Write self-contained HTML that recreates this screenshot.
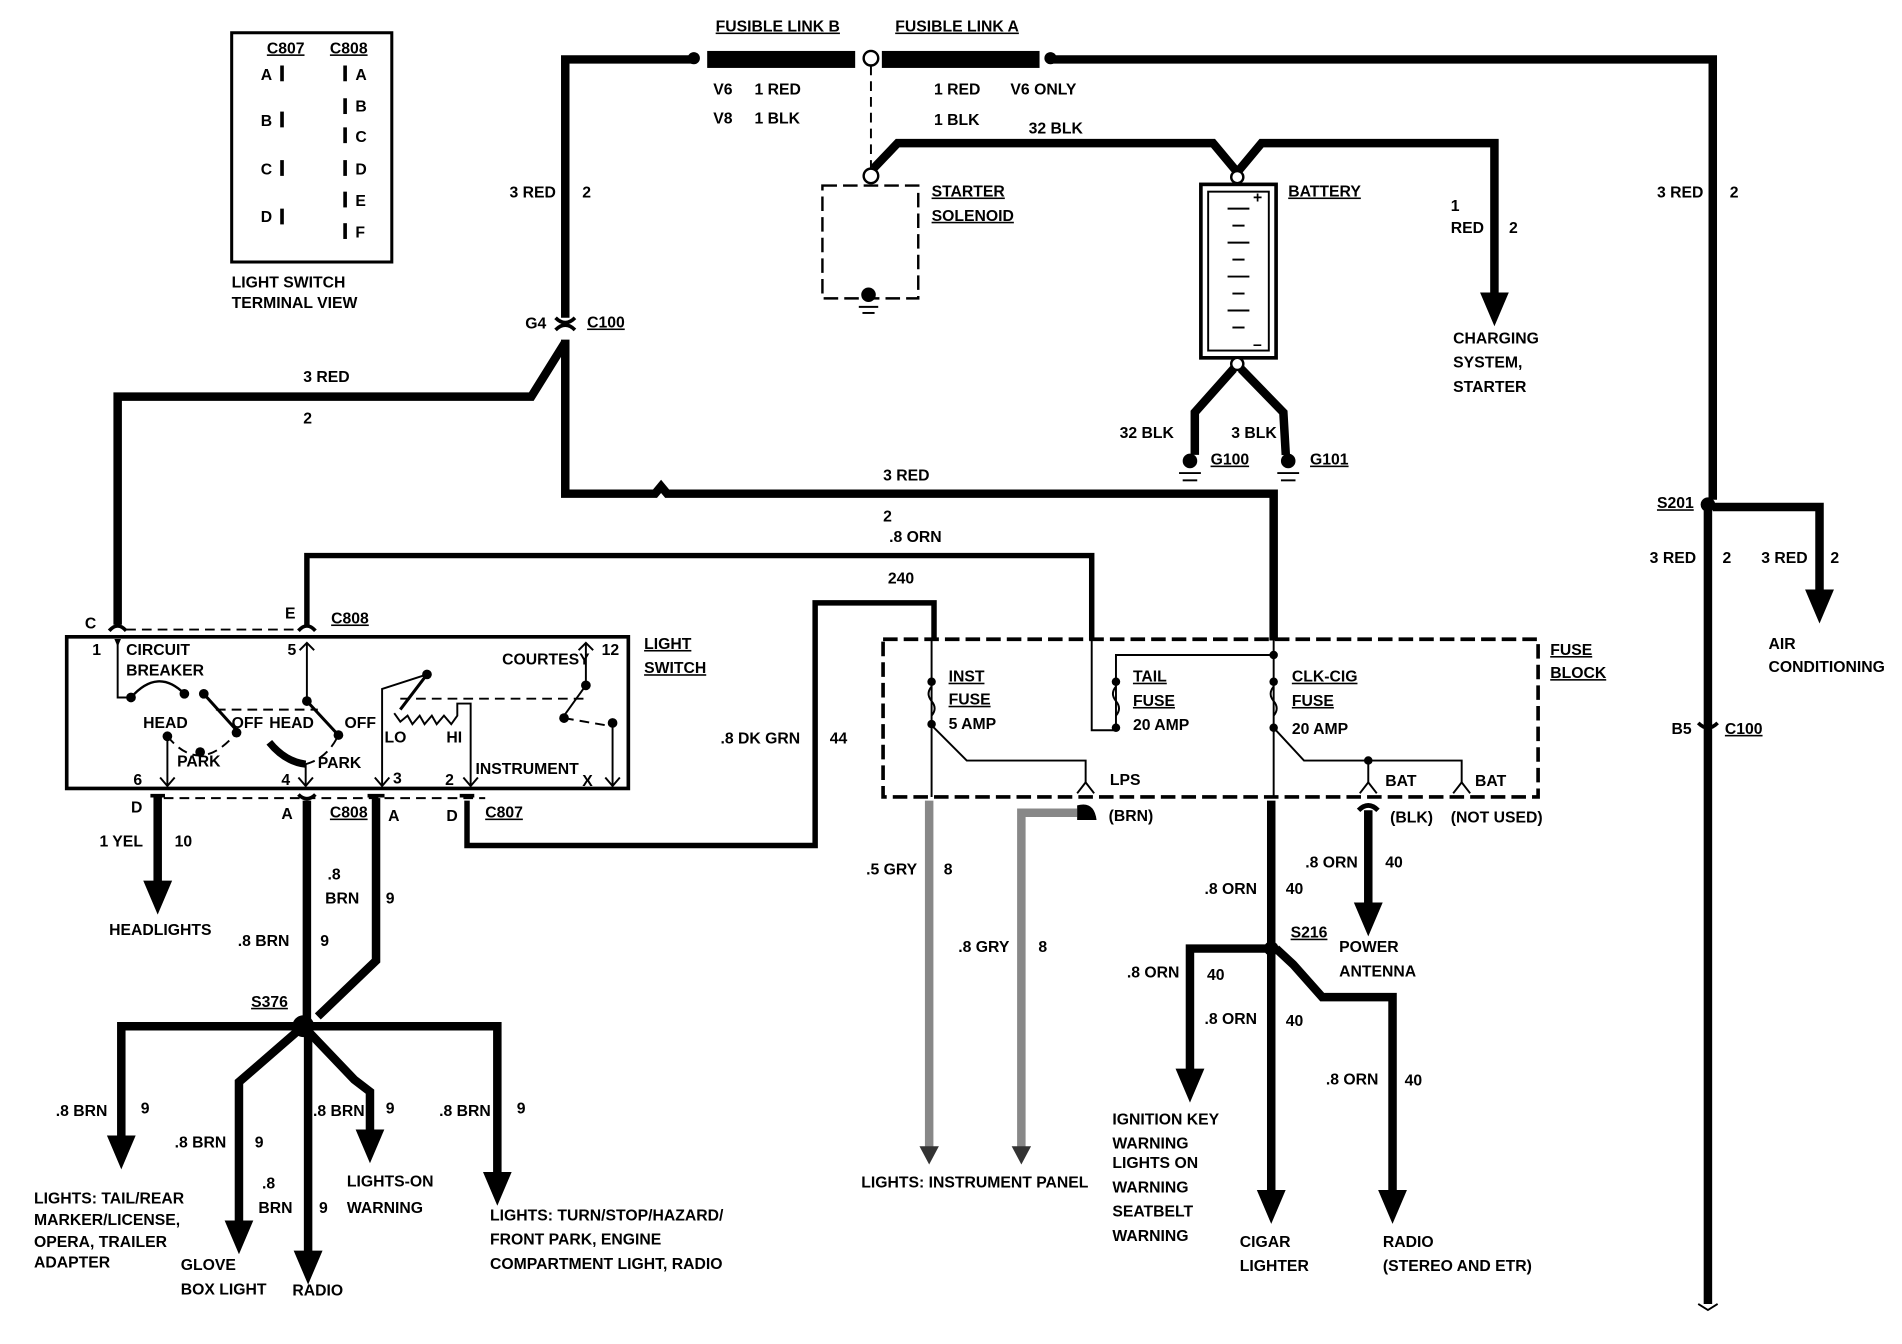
<!DOCTYPE html>
<html><head><meta charset="utf-8"><style>
html,body{margin:0;padding:0;background:#fff;}
svg{display:block;}
text{font-family:"Liberation Sans",sans-serif;font-weight:bold;font-size:13px;fill:#000;}
.t{stroke:#000;stroke-width:7;fill:none;}
.m{stroke:#000;stroke-width:4.5;fill:none;}
.n{stroke:#000;stroke-width:1.6;fill:none;}
.d{stroke:#000;stroke-width:1.6;fill:none;stroke-dasharray:8 5;}
.bd{stroke:#000;stroke-width:3;fill:none;stroke-dasharray:12 5;}
.g{stroke:#888;stroke-width:7;fill:none;}
</style></head><body>
<svg width="1902" height="1344" viewBox="0 0 1568 1108" preserveAspectRatio="none" xmlns="http://www.w3.org/2000/svg">
<defs>
<marker id="ar" markerWidth="4" markerHeight="4" refX="2" refY="2" orient="auto" markerUnits="strokeWidth"><path d="M0,0.3 L4,2 L0,3.7 Z" fill="#000"/></marker>
</defs>
<!-- terminal view -->
<rect x="191" y="27" width="132" height="189" class="n" style="stroke-width:2.5"/>
<text x="220" y="44" font-size="10" text-decoration="underline">C807</text>
<text x="272" y="44" font-size="10" text-decoration="underline">C808</text>
<g font-size="10">
<text x="215" y="66">A</text><rect x="231" y="54" width="3" height="13"/>
<text x="215" y="104">B</text><rect x="231" y="92" width="3" height="13"/>
<text x="215" y="144">C</text><rect x="231" y="132" width="3" height="13"/>
<text x="215" y="183">D</text><rect x="231" y="172" width="3" height="13"/>
<rect x="283" y="54" width="3" height="13"/><text x="293" y="66">A</text>
<rect x="283" y="81" width="3" height="13"/><text x="293" y="92">B</text>
<rect x="283" y="105" width="3" height="13"/><text x="293" y="117">C</text>
<rect x="283" y="132" width="3" height="13"/><text x="293" y="144">D</text>
<rect x="283" y="158" width="3" height="13"/><text x="293" y="170">E</text>
<rect x="283" y="184" width="3" height="13"/><text x="293" y="196">F</text>
</g>
<text x="191" y="237" font-size="11">LIGHT SWITCH</text>
<text x="191" y="254" font-size="11">TERMINAL VIEW</text>
<!-- top wires -->
<polyline class="t" points="466,262 466,49 572,49"/>
<circle cx="572" cy="48" r="5"/>
<rect x="583" y="42" width="122" height="14"/>
<circle cx="718" cy="48" r="6" fill="#fff" stroke="#000" stroke-width="2"/>
<rect x="727" y="42" width="130" height="14"/>
<circle cx="866" cy="48" r="5"/>
<polyline class="t" points="866,49 1412,49 1412,412"/>
<text x="590" y="26" text-decoration="underline">FUSIBLE LINK B</text>
<text x="738" y="26" text-decoration="underline">FUSIBLE LINK A</text>
<text x="588" y="78">V6</text><text x="622" y="78">1 RED</text>
<text x="588" y="102">V8</text><text x="622" y="102">1 BLK</text>
<text x="770" y="78">1 RED</text><text x="833" y="78">V6 ONLY</text>
<text x="770" y="103">1 BLK</text><text x="848" y="110">32 BLK</text>
<line class="d" x1="718" y1="54" x2="718" y2="140"/>
<circle cx="718" cy="145" r="6" fill="#fff" stroke="#000" stroke-width="2"/>
<polyline class="t" points="720,139 740,118 1000,118 1020,142 1040,118 1232,118 1232,255" marker-end="url(#ar)"/>
<rect x="678" y="153" width="79" height="93" class="bd" style="stroke-width:2"/>
<circle cx="716" cy="243" r="6"/>
<line class="n" x1="708" y1="253" x2="724" y2="253"/><line class="n" x1="711" y1="258" x2="721" y2="258"/>
<text x="768" y="162" text-decoration="underline">STARTER</text>
<text x="768" y="182" text-decoration="underline">SOLENOID</text>
<!-- battery -->
<rect x="990" y="152" width="62" height="143" class="n" style="stroke-width:3"/>
<rect x="996" y="158" width="50" height="131" class="n"/>
<g class="n"><line x1="1012" y1="172" x2="1030" y2="172"/><line x1="1016" y1="186" x2="1026" y2="186"/><line x1="1012" y1="200" x2="1030" y2="200"/><line x1="1016" y1="214" x2="1026" y2="214"/><line x1="1012" y1="228" x2="1030" y2="228"/><line x1="1016" y1="242" x2="1026" y2="242"/><line x1="1012" y1="256" x2="1030" y2="256"/><line x1="1016" y1="270" x2="1026" y2="270"/></g>
<text x="1033" y="167">+</text><text x="1033" y="288">–</text>
<circle cx="1020" cy="146" r="5" fill="#fff" stroke="#000" stroke-width="2"/>
<circle cx="1020" cy="300" r="5" fill="#fff" stroke="#000" stroke-width="2"/>
<text x="1062" y="162" text-decoration="underline">BATTERY</text>
<polyline class="t" points="1017,304 985,340 985,375"/>
<polyline class="t" points="1023,304 1058,340 1060,375"/>
<circle cx="981" cy="380" r="6"/><line class="n" x1="972" y1="390" x2="990" y2="390"/><line class="n" x1="975" y1="396" x2="987" y2="396"/>
<circle cx="1062" cy="380" r="6"/><line class="n" x1="1053" y1="390" x2="1071" y2="390"/><line class="n" x1="1056" y1="396" x2="1068" y2="396"/>
<text x="923" y="361">32 BLK</text><text x="1015" y="361">3 BLK</text>
<text x="998" y="383" text-decoration="underline">G100</text><text x="1080" y="383" text-decoration="underline">G101</text>
<text x="1196" y="174">1</text><text x="1196" y="192">RED</text><text x="1244" y="192">2</text>
<text x="1198" y="283">CHARGING</text><text x="1198" y="303">SYSTEM,</text><text x="1198" y="323">STARTER</text>
<!-- right side -->
<text x="1366" y="163">3 RED</text><text x="1426" y="163">2</text>
<circle cx="1408" cy="416" r="6"/>
<text x="1366" y="419" text-decoration="underline">S201</text>
<polyline class="t" points="1412,418 1500,418 1500,500" marker-end="url(#ar)"/>
<polyline class="t" points="1408,420 1408,1075"/>
<path d="M1400,1075 L1408,1080 L1416,1075" class="n"/>
<text x="1360" y="464">3 RED</text><text x="1420" y="464">2</text>
<text x="1452" y="464">3 RED</text><text x="1509" y="464">2</text>
<text x="1458" y="535">AIR</text><text x="1458" y="554">CONDITIONING</text>
<text x="1378" y="605">B5</text><text x="1422" y="605" text-decoration="underline">C100</text>
<path d="M1400,596 Q1408,604 1416,596" class="n" style="stroke-width:3"/>
<!-- C100 left -->
<text x="420" y="163">3 RED</text><text x="480" y="163">2</text>
<path d="M458,262 Q466,270 474,262 M458,272 Q466,264 474,272" class="n" style="stroke-width:3"/>
<text x="433" y="271">G4</text><text x="484" y="270" text-decoration="underline">C100</text>
<polyline class="t" points="466,282 438,327 97,327 97,515"/>
<polyline class="t" points="466,280 466,407 540,407 545,401 550,407 1050,407 1050,528"/>
<text x="250" y="315">3 RED</text><text x="250" y="349">2</text>
<text x="728" y="396">3 RED</text><text x="728" y="430">2</text>
<polyline class="m" points="253,515 253,458 900,458 900,528"/>
<text x="733" y="447">.8 ORN</text>
<polyline class="m" points="770,528 770,497 672,497 672,697 385,697 385,660"/>
<text x="732" y="481">240</text>
<text x="594" y="613">.8 DK GRN</text><text x="684" y="613">44</text>
<!-- light switch -->
<rect x="55" y="525" width="463" height="125" fill="none" stroke="#000" stroke-width="3"/>
<path d="M90,520 Q97,512 104,520 M246,520 Q253,512 260,520" class="n" style="stroke-width:3"/>
<line class="d" x1="104" y1="519" x2="246" y2="519"/>
<text x="70" y="518">C</text><text x="235" y="510">E</text><text x="273" y="514" text-decoration="underline">C808</text>
<text x="76" y="540" font-size="11">1</text><text x="237" y="540" font-size="11">5</text><text x="496" y="540" font-size="11">12</text>
<text x="104" y="540" font-size="11">CIRCUIT</text><text x="104" y="557" font-size="11">BREAKER</text>
<text x="414" y="548" font-size="11">COURTESY</text>
<text x="531" y="535" text-decoration="underline">LIGHT</text><text x="531" y="555" text-decoration="underline">SWITCH</text>
<polyline class="n" points="97,530 97,575 108,575" marker-start="url(#ar)"/>
<path d="M108,575 Q130,550 152,572" class="n" style="stroke-width:2"/>
<circle cx="108" cy="575" r="4"/><circle cx="152" cy="572" r="4"/><circle cx="168" cy="572" r="4"/>
<line class="n" x1="168" y1="572" x2="195" y2="602" style="stroke-width:2.5"/>
<circle cx="195" cy="604" r="4"/>
<line class="d" x1="178" y1="585" x2="262" y2="585"/>
<text x="118" y="600" font-size="11">HEAD</text><text x="191" y="600" font-size="11">OFF</text>
<path d="M138,607 Q165,640 195,604" class="d"/>
<circle cx="138" cy="607" r="4"/><circle cx="165" cy="620" r="4"/>
<text x="146" y="632" font-size="11">PARK</text>
<line class="n" x1="138" y1="607" x2="138" y2="648"/><path d="M132,641 L138,648 L144,641" class="n"/>
<text x="110" y="647" font-size="11">6</text>
<line class="n" x1="253" y1="530" x2="253" y2="578"/><path d="M247,536 L253,530 L259,536" class="n"/>
<circle cx="253" cy="578" r="4"/>
<line class="n" x1="253" y1="578" x2="278" y2="605" style="stroke-width:2.5"/>
<circle cx="279" cy="606" r="4"/>
<text x="222" y="600" font-size="11">HEAD</text><text x="284" y="600" font-size="11">OFF</text>
<path d="M222,612 Q235,628 252,630" stroke="#000" stroke-width="6" fill="none"/>
<path d="M252,630 Q270,625 279,606" class="d"/>
<line class="n" x1="252" y1="630" x2="252" y2="648"/><path d="M246,641 L252,648 L258,641" class="n"/>
<text x="262" y="633" font-size="11">PARK</text><text x="232" y="647" font-size="11">4</text>
<polyline class="n" points="352,556 315,568 315,648"/><path d="M309,641 L315,648 L321,641" class="n"/>
<circle cx="352" cy="556" r="4"/>
<line class="n" x1="352" y1="556" x2="330" y2="585" style="stroke-width:2.5"/>
<polyline class="n" points="325,588 330,595 336,590 340,597 346,590 350,597 356,590 360,597 366,590 372,597 377,590 377,580 388,580 388,648"/>
<path d="M382,641 L388,648 L394,641" class="n"/>
<text x="317" y="612" font-size="11">LO</text><text x="368" y="612" font-size="11">HI</text>
<text x="324" y="646" font-size="11">3</text><text x="367" y="647" font-size="11">2</text>
<text x="392" y="638" font-size="11">INSTRUMENT</text>
<line class="d" x1="330" y1="576" x2="483" y2="576"/>
<polyline class="n" points="483,530 483,565 465,590"/><path d="M477,536 L483,530 L489,536" class="n"/>
<circle cx="483" cy="565" r="4"/><circle cx="465" cy="592" r="4"/>
<line class="d" x1="465" y1="592" x2="500" y2="598"/>
<circle cx="505" cy="596" r="4"/>
<line class="n" x1="505" y1="596" x2="505" y2="648"/><path d="M499,641 L505,648 L511,641" class="n"/>
<text x="480" y="648" font-size="11">X</text>
<!-- bottom connectors -->
<line class="d" x1="135" y1="658" x2="400" y2="658"/>
<text x="108" y="670">D</text><text x="232" y="675">A</text><text x="272" y="674" text-decoration="underline">C808</text>
<text x="320" y="677">A</text><text x="368" y="677">D</text><text x="400" y="674" text-decoration="underline">C807</text>
<path d="M124,656 L136,656 M246,655 Q253,662 260,655 M303,656 L317,656 M379,656 L391,656" class="n" style="stroke-width:3"/>
<polyline class="t" points="130,656 130,740" marker-end="url(#ar)"/>
<text x="82" y="698">1 YEL</text><text x="144" y="698">10</text>
<text x="90" y="771">HEADLIGHTS</text>
<polyline class="t" points="253,660 253,842"/>
<polyline class="t" points="310,658 310,792 262,838"/>
<text x="270" y="725">.8</text><text x="268" y="745">BRN</text><text x="318" y="745">9</text>
<text x="196" y="780">.8 BRN</text><text x="264" y="780">9</text>
<circle cx="250" cy="846" r="9"/>
<text x="207" y="830" text-decoration="underline">S376</text>
<polyline class="t" points="250,846 100,846 100,950" marker-end="url(#ar)"/>
<polyline class="t" points="250,846 197,892 197,1020" marker-end="url(#ar)"/>
<polyline class="t" points="254,846 254,1045" marker-end="url(#ar)"/>
<polyline class="t" points="250,846 292,890 305,900 305,945" marker-end="url(#ar)"/>
<polyline class="t" points="250,846 410,846 410,980" marker-end="url(#ar)"/>
<text x="46" y="920">.8 BRN</text><text x="116" y="918">9</text>
<text x="144" y="946">.8 BRN</text><text x="210" y="946">9</text>
<text x="258" y="920">.8 BRN</text><text x="318" y="918">9</text>
<text x="362" y="920">.8 BRN</text><text x="426" y="918">9</text>
<text x="216" y="980">.8</text><text x="213" y="1000">BRN</text><text x="263" y="1000">9</text>
<text x="28" y="992">LIGHTS: TAIL/REAR</text><text x="28" y="1010">MARKER/LICENSE,</text><text x="28" y="1028">OPERA, TRAILER</text><text x="28" y="1045">ADAPTER</text>
<text x="149" y="1047">GLOVE</text><text x="149" y="1067">BOX LIGHT</text><text x="241" y="1068">RADIO</text>
<text x="286" y="978">LIGHTS-ON</text><text x="286" y="1000">WARNING</text>
<text x="404" y="1006">LIGHTS: TURN/STOP/HAZARD/</text><text x="404" y="1026">FRONT PARK, ENGINE</text><text x="404" y="1046">COMPARTMENT LIGHT, RADIO</text>
<!-- fuse block -->
<rect x="728" y="527" width="540" height="130" class="bd"/>
<text x="1278" y="540" text-decoration="underline">FUSE</text><text x="1278" y="559" text-decoration="underline">BLOCK</text>
<line class="n" x1="768" y1="528" x2="768" y2="657"/>
<circle cx="768" cy="562" r="3.5"/><circle cx="768" cy="597" r="3.5"/>
<path d="M768,566 q-5,6 0,12 q5,6 0,12" class="n" fill="#fff" stroke-width="2"/>
<polyline class="n" points="768,598 797,627 895,627 895,645"/>
<path d="M888,654 L895,645 L902,654" class="n"/>
<text x="782" y="562" text-decoration="underline">INST</text><text x="782" y="581" text-decoration="underline">FUSE</text><text x="782" y="601" font-size="10">5 AMP</text>
<text x="915" y="647" font-size="10">LPS</text>
<polyline class="n" points="900,528 900,602 920,602"/>
<polyline class="n" points="1050,528 1050,657"/>
<polyline class="n" points="1050,540 920,540 920,602"/>
<circle cx="920" cy="562" r="3.5"/><circle cx="920" cy="600" r="3.5"/>
<path d="M920,566 q-5,6 0,12 q5,6 0,12" class="n" stroke-width="2"/>
<circle cx="1050" cy="540" r="3.5"/><circle cx="1050" cy="562" r="3.5"/><circle cx="1050" cy="600" r="3.5"/>
<path d="M1050,566 q-5,6 0,12 q5,6 0,12" class="n" stroke-width="2"/>
<text x="934" y="562" text-decoration="underline">TAIL</text><text x="934" y="582" text-decoration="underline">FUSE</text><text x="934" y="602" font-size="10">20 AMP</text>
<text x="1065" y="562" text-decoration="underline">CLK-CIG</text><text x="1065" y="582" text-decoration="underline">FUSE</text><text x="1065" y="605" font-size="10">20 AMP</text>
<polyline class="n" points="1050,600 1075,627 1205,627 1205,645"/>
<circle cx="1128" cy="627" r="3.5"/>
<line class="n" x1="1128" y1="627" x2="1128" y2="645"/>
<path d="M1121,654 L1128,645 L1135,654 M1198,654 L1205,645 L1212,654" class="n"/>
<text x="1142" y="648" font-size="11">BAT</text><text x="1216" y="648" font-size="11">BAT</text>
<text x="914" y="677">(BRN)</text><text x="1146" y="678">(BLK)</text><text x="1196" y="678">(NOT USED)</text>
<!-- gray wires -->
<polyline class="g" points="766,660 766,950"/>
<polygon points="758,945 774,945 766,960" fill="#333"/>
<polyline class="g" points="888,670 842,670 842,950"/>
<path d="M888,664 Q902,660 904,676 L888,676 Z" fill="#000"/>
<polygon points="834,945 850,945 842,960" fill="#333"/>
<text x="714" y="721">.5 GRY</text><text x="778" y="721">8</text>
<text x="790" y="785">.8 GRY</text><text x="856" y="785">8</text>
<text x="710" y="979">LIGHTS: INSTRUMENT PANEL</text>
<!-- clk-cig wires -->
<polyline class="t" points="1048,660 1048,782"/>
<circle cx="1048" cy="782" r="6"/>
<text x="1064" y="773" text-decoration="underline">S216</text>
<polyline class="t" points="1048,782 981,782 981,895" marker-end="url(#ar)"/>
<polyline class="t" points="1048,782 1048,995" marker-end="url(#ar)"/>
<polyline class="t" points="1052,782 1066,795 1090,822 1148,822 1148,995" marker-end="url(#ar)"/>
<path d="M1120,668 Q1128,660 1136,668" class="n" style="stroke-width:4"/>
<polyline class="t" points="1128,668 1128,758" marker-end="url(#ar)"/>
<text x="1076" y="715">.8 ORN</text><text x="1142" y="715">40</text>
<text x="993" y="737">.8 ORN</text><text x="1060" y="737">40</text>
<text x="1104" y="785">POWER</text><text x="1104" y="805">ANTENNA</text>
<text x="929" y="806">.8 ORN</text><text x="995" y="808">40</text>
<text x="993" y="844">.8 ORN</text><text x="1060" y="846">40</text>
<text x="1093" y="894">.8 ORN</text><text x="1158" y="895">40</text>
<text x="917" y="927">IGNITION KEY</text><text x="917" y="947">WARNING</text><text x="917" y="963">LIGHTS ON</text><text x="917" y="983">WARNING</text><text x="917" y="1003">SEATBELT</text><text x="917" y="1023">WARNING</text>
<text x="1022" y="1028">CIGAR</text><text x="1022" y="1048">LIGHTER</text>
<text x="1140" y="1028">RADIO</text><text x="1140" y="1048">(STEREO AND ETR)</text>
</svg>
</body></html>
